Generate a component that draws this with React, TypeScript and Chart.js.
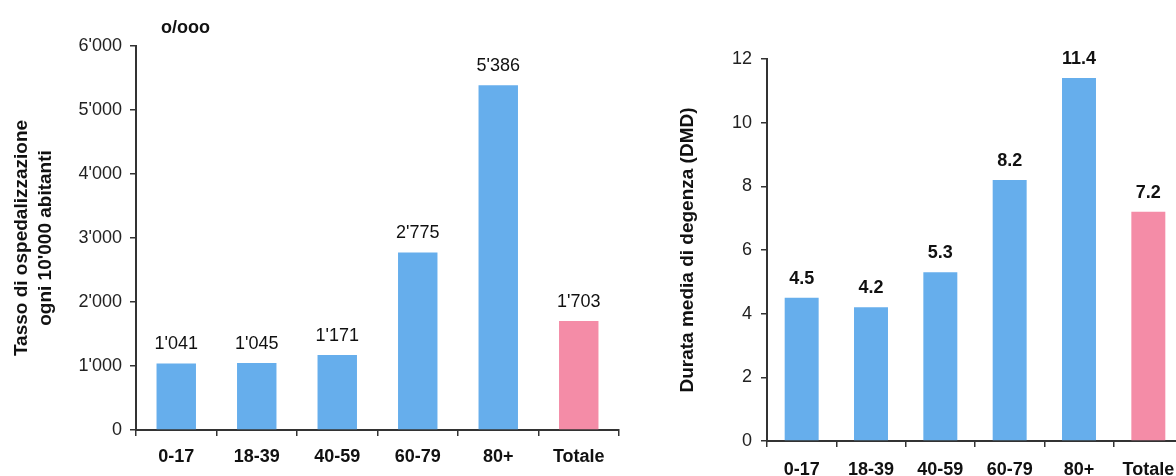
import React, { useEffect, useRef } from 'react';
import { Chart, registerables } from 'chart.js';

Chart.register(...registerables);

const FONT = "'Liberation Sans', Arial, sans-serif";

const categories = ['0-17', '18-39', '40-59', '60-79', '80+', 'Totale'];
const rateValues = [1041, 1045, 1171, 2775, 5386, 1703];
const stayValues = [4.5, 4.2, 5.3, 8.2, 11.4, 7.2];
const rateTicks = [0, 1000, 2000, 3000, 4000, 5000, 6000];
const stayTicks = [0, 2, 4, 6, 8, 10, 12];
const barColors = ['#66AEEC', '#66AEEC', '#66AEEC', '#66AEEC', '#66AEEC', '#F48CA7'];
const rateTitle = ['Tasso di ospedalizzazione', "ogni 10'000 abitanti"];
const stayTitle = 'Durata media di degenza (DMD)';
const unitLabel = 'o/ooo';

function fmtThousands(v: number): string {
  if (v < 1000) return String(v);
  const th = Math.floor(v / 1000);
  const rest = String(Math.round(v % 1000)).padStart(3, '0');
  return `${th}'${rest}`;
}

function fmtDecimal(v: number): string {
  return v.toFixed(1);
}

function makeValueLabels(format: (v: number) => string, font: string, gap: number) {
  return {
    id: 'valueLabels',
    afterDatasetsDraw(chart: any) {
      const ctx = chart.ctx;
      const meta = chart.getDatasetMeta(0);
      const data = chart.data.datasets[0].data as number[];
      ctx.save();
      ctx.font = font;
      ctx.fillStyle = '#111';
      ctx.textAlign = 'center';
      ctx.textBaseline = 'alphabetic';
      meta.data.forEach((bar: any, i: number) => {
        ctx.fillText(format(data[i]), bar.x, bar.y - gap);
      });
      ctx.restore();
    },
  };
}

interface Cfg {
  values: number[];
  ticks: number[];
  tickFormat: (v: number) => string;
  title: string | string[];
  titlePadTop: number;
  yWidth: number;
  xHeight: number;
  padding: { left: number; top: number; right: number; bottom: number };
  yTickPad: number;
  xTickPad: number;
  valueFont: string;
  valueFormat: (v: number) => string;
}

function BarChart({ cfg, style }: { cfg: Cfg; style: React.CSSProperties }) {
  const ref = useRef<HTMLCanvasElement | null>(null);
  useEffect(() => {
    if (!ref.current) return;
    const tickVals = cfg.ticks;
    const chart = new Chart(ref.current, {
      type: 'bar',
      data: {
        labels: categories,
        datasets: [
          {
            data: cfg.values,
            backgroundColor: barColors,
            borderWidth: 0,
            categoryPercentage: 1,
            barPercentage: 0.49,
          },
        ],
      },
      options: {
        animation: false,
        responsive: false,
        maintainAspectRatio: false,
        layout: { padding: cfg.padding },
        plugins: {
          legend: { display: false },
          tooltip: { enabled: false },
        },
        scales: {
          x: {
            type: 'category',
            grid: {
              offset: true,
              drawOnChartArea: false,
              drawTicks: true,
              tickLength: 6,
              color: '#333',
              lineWidth: 1.5,
            },
            border: { color: '#333', width: 2 },
            ticks: {
              color: '#111',
              font: { family: FONT, size: 18, weight: 'bold' },
              padding: cfg.xTickPad,
              maxRotation: 0,
              autoSkip: false,
            },
            afterFit: (scale: any) => {
              scale.height = cfg.xHeight;
            },
          },
          y: {
            min: tickVals[0],
            max: tickVals[tickVals.length - 1],
            afterBuildTicks: (scale: any) => {
              scale.ticks = tickVals.map((v) => ({ value: v }));
            },
            grid: {
              drawOnChartArea: false,
              drawTicks: true,
              tickLength: 6,
              color: '#333',
              lineWidth: 1.5,
            },
            border: { color: '#333', width: 2 },
            ticks: {
              color: '#222',
              font: { family: FONT, size: 18 },
              padding: cfg.yTickPad,
              callback: (v: any) => cfg.tickFormat(Number(v)),
            },
            title: {
              display: true,
              text: cfg.title,
              color: '#111',
              font: { family: FONT, size: 19, weight: 'bold', lineHeight: 1.26 },
              padding: { top: cfg.titlePadTop, bottom: 0 },
            },
            afterFit: (scale: any) => {
              scale.width = cfg.yWidth;
            },
          },
        },
      },
      plugins: [makeValueLabels(cfg.valueFormat, cfg.valueFont, 14)],
    } as any);
    return () => chart.destroy();
  }, []);
  const w = style.width as number;
  const h = style.height as number;
  return (
    <canvas
      ref={ref}
      width={w}
      height={h}
      style={{ position: 'absolute', display: 'block', ...style }}
    />
  );
}

const leftCfg: Cfg = {
  values: rateValues,
  ticks: rateTicks,
  tickFormat: fmtThousands,
  title: rateTitle,
  titlePadTop: 10,
  yWidth: 136,
  xHeight: 46,
  padding: { left: 0, top: 46, right: 21, bottom: 0 },
  yTickPad: 8,
  xTickPad: 10,
  valueFont: `18px ${FONT}`,
  valueFormat: fmtThousands,
};

const rightCfg: Cfg = {
  values: stayValues,
  ticks: stayTicks,
  tickFormat: (v: number) => String(v),
  title: stayTitle,
  titlePadTop: 54,
  yWidth: 145,
  xHeight: 35,
  padding: { left: 0, top: 59, right: 19, bottom: 0 },
  yTickPad: 9,
  xTickPad: 12,
  valueFont: `bold 18px ${FONT}`,
  valueFormat: fmtDecimal,
};

export default function App() {
  return (
    <div
      style={{
        position: 'absolute',
        left: 0,
        top: 0,
        width: 1176,
        height: 476,
        overflow: 'hidden',
        background: '#fff',
        fontFamily: FONT,
      }}
    >
      <BarChart cfg={leftCfg} style={{ left: 0, top: 0, width: 640, height: 476 }} />
      <BarChart cfg={rightCfg} style={{ left: 622, top: 0, width: 580, height: 476 }} />
      <div
        style={{
          position: 'absolute',
          left: 161,
          top: 18,
          fontSize: 18,
          lineHeight: '18px',
          fontWeight: 'bold',
          color: '#111',
          whiteSpace: 'nowrap',
        }}
      >
        {unitLabel}
      </div>
    </div>
  );
}
